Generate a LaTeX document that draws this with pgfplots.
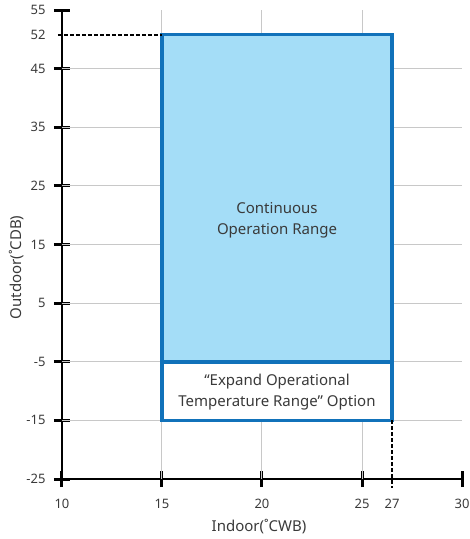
\documentclass[border=0pt]{standalone}
\usepackage{pgfplots}
\pgfplotsset{compat=1.18}
\usepackage{fontspec}
\setmainfont{Noto Sans}
\definecolor{rangefill}{HTML}{A4DDF7}
\definecolor{rangeline}{HTML}{1172BA}
\definecolor{txt}{HTML}{3A3A3A}
\definecolor{gridc}{HTML}{C8C8C8}
\begin{document}
\begin{tikzpicture}
\begin{axis}[
    scale only axis,
    width=400pt, height=469pt,
    xmin=10, xmax=30, ymin=-25, ymax=55,
    axis x line=bottom, axis y line=left,
    axis line style={line width=2.8pt, -},
    xtick={10,15,20,25,30},
    ytick={-25,-15,-5,5,15,25,35,45,55},
    % the chart is not drawn to scale: 27 and 52 sit at these positions
    extra x ticks={26.5}, extra x tick labels={27},
    extra y ticks={50.8}, extra y tick labels={52},
    extra tick style={major tick style={draw=none}},
    tick align=center,
    major tick length=16pt,
    major tick style={line width=3pt, black},
    /pgf/number format/assume math mode=true,
    ticklabel style={font=\fontsize{13}{15}\selectfont, text=txt},
    xticklabel style={yshift=-9pt},
    yticklabel style={xshift=-5pt},
    xlabel={Indoor(˚CWB)}, ylabel={Outdoor(˚CDB)},
    label style={font=\fontsize{15}{17}\selectfont, text=txt},
    xlabel style={at={(axis description cs:0.4925,-0.1023)}, anchor=center},
    ylabel style={at={(axis description cs:-0.1125,0.451)}, anchor=center},
    clip=false,
]
% grid
\foreach \x in {15,20,25} {
  \edef\tmp{\noexpand\draw[gridc, line width=1pt] (axis cs:\x,-25) -- (axis cs:\x,55);}\tmp
}
\foreach \y in {-15,-5,5,15,25,35,45} {
  \edef\tmp{\noexpand\draw[gridc, line width=1pt] (axis cs:10,\y) -- (axis cs:30,\y);}\tmp
}
% continuous operation range
\addplot[fill=rangefill, draw=rangeline, line width=3.5pt] coordinates {(15,-5) (26.5,-5) (26.5,50.8) (15,50.8)} -- cycle;
% expanded range
\addplot[fill=white, draw=rangeline, line width=3.5pt] coordinates {(15,-15) (26.5,-15) (26.5,-5) (15,-5)} -- cycle;
% dashed guide lines
\addplot[black, line width=2pt, dash pattern=on 4pt off 2pt] coordinates {(9.8,50.8) (15,50.8)};
\addplot[black, line width=2pt, dash pattern=on 4pt off 2pt] coordinates {(26.5,-15) (26.5,-26.5)};
\node[align=center, text=txt, font=\fontsize{15}{21}\selectfont] at (axis cs:20.75,19.2) {Continuous\\Operation Range};
\node[align=center, text=txt, font=\fontsize{15}{21}\selectfont] at (axis cs:20.75,-10.2) {“Expand Operational\\Temperature Range” Option};
\end{axis}
\pgfresetboundingbox
\path[use as bounding box] (-62pt,-60pt) rectangle (408pt,479pt);
\end{tikzpicture}
\end{document}
